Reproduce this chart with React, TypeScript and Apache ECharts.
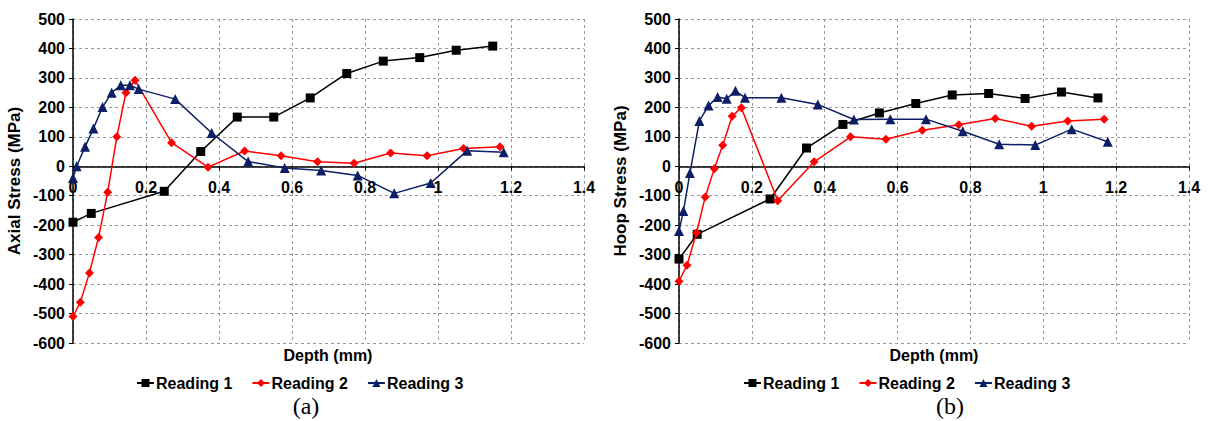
import React, { useEffect, useRef } from "react";
import * as echarts from "echarts";

// ---- Data: (a) Axial stress ----
const depthA1 = [0, 0.05, 0.25, 0.35, 0.45, 0.55, 0.65, 0.75, 0.85, 0.95, 1.05, 1.15];
const axialR1 = [-190, -160, -85, 50, 167, 167, 232, 315, 357, 369, 394, 408];

const depthA2 = [0, 0.02, 0.045, 0.07, 0.095, 0.12, 0.145, 0.17, 0.27, 0.37, 0.47, 0.57, 0.67, 0.77, 0.87, 0.97, 1.07, 1.17];
const axialR2 = [-510, -462, -362, -242, -88, 100, 250, 292, 80, -3, 52, 36, 15, 10, 45, 36, 60, 66];

const depthA3 = [0, 0.01, 0.033, 0.056, 0.081, 0.106, 0.131, 0.156, 0.18, 0.28, 0.38, 0.48, 0.58, 0.68, 0.78, 0.88, 0.98, 1.08, 1.18];
const axialR3 = [-40, 0, 66, 128, 201, 250, 275, 275, 262, 228, 113, 16, -6, -14, -31, -92, -57, 53, 48];

// ---- Data: (b) Hoop stress ----
const depthB1 = [0, 0.05, 0.25, 0.35, 0.45, 0.55, 0.65, 0.75, 0.85, 0.95, 1.05, 1.15];
const hoopR1 = [-315, -231, -111, 62, 142, 181, 213, 242, 247, 230, 252, 232];

const depthB2 = [0, 0.022, 0.048, 0.072, 0.097, 0.12, 0.146, 0.171, 0.271, 0.371, 0.471, 0.568, 0.668, 0.768, 0.868, 0.968, 1.067, 1.167];
const hoopR2 = [-390, -336, -226, -104, -8, 71, 170, 199, -117, 15, 100, 92, 122, 141, 162, 136, 154, 160];

const depthB3 = [0, 0.012, 0.03, 0.056, 0.081, 0.106, 0.131, 0.155, 0.181, 0.281, 0.381, 0.48, 0.58, 0.678, 0.779, 0.879, 0.978, 1.078, 1.177];
const hoopR3 = [-220, -152, -23, 154, 206, 235, 229, 256, 233, 233, 210, 159, 160, 160, 119, 75, 72, 126, 83];

const seriesNames = ["Reading 1", "Reading 2", "Reading 3"];
const yAxisNames = ["Axial Stress (MPa)", "Hoop Stress (MPa)"];
const xAxisName = "Depth (mm)";
const captions = ["(a)", "(b)"];

const FONT = '"Liberation Sans", Arial, sans-serif';
const COLORS = ["#000000", "#ff0000", "#0c1f66"];
const SYMBOLS = ["rect", "diamond", "triangle"];
const SIZES = [9, 9, 10];

function pairs(xs: number[], ys: number[]) {
  return xs.map((x, i) => [x, ys[i]]);
}

function mkSeries(idx: number, grid: number, xs: number[], ys: number[]) {
  return {
    type: "line",
    name: seriesNames[idx],
    xAxisIndex: grid,
    yAxisIndex: grid,
    data: pairs(xs, ys),
    symbol: SYMBOLS[idx],
    symbolSize: SIZES[idx],
    showAllSymbol: true,
    lineStyle: { color: COLORS[idx], width: 1.5 },
    itemStyle: { color: COLORS[idx] },
    z: 2 + idx,
  };
}

function xAxis(grid: number) {
  return {
    type: "value",
    gridIndex: grid,
    min: 0,
    max: 1.4,
    interval: 0.2,
    axisLine: { show: true, onZero: true, lineStyle: { color: "#000", width: 1.5 } },
    axisTick: { show: true, length: 4, lineStyle: { color: "#000" } },
    axisLabel: {
      margin: -164,
      color: "#000",
      fontFamily: FONT,
      fontWeight: "bold",
      fontSize: 16,
      formatter: (v: number) => String(+v.toFixed(1)),
    },
    splitLine: { show: true, lineStyle: { color: "#9a9a9a", type: [3, 3], width: 1 } },
  };
}

function yAxis(grid: number) {
  return {
    type: "value",
    gridIndex: grid,
    min: -600,
    max: 500,
    interval: 100,
    name: yAxisNames[grid],
    nameLocation: "middle",
    nameGap: 50,
    nameTextStyle: { color: "#000", fontFamily: FONT, fontWeight: "bold", fontSize: 17 },
    axisLine: { show: true, onZero: false, lineStyle: { color: "#000", width: 1.5 } },
    axisTick: { show: true, length: 4, lineStyle: { color: "#000" } },
    axisLabel: { margin: 8, color: "#000", fontFamily: FONT, fontWeight: "bold", fontSize: 16 },
    splitLine: { show: true, lineStyle: { color: "#9a9a9a", type: [3, 3], width: 1 } },
  };
}

function legend(left: number) {
  return {
    left,
    top: 375,
    padding: 0,
    itemGap: 19,
    itemWidth: 17,
    itemHeight: 10,
    data: seriesNames,
    textStyle: { color: "#000", fontFamily: FONT, fontWeight: "bold", fontSize: 16, padding: [0, 0, 0, -3] },
  };
}

export default function App() {
  const ref = useRef<HTMLDivElement>(null);
  useEffect(() => {
    const chart = echarts.init(ref.current!, null, { renderer: "svg" });
    const option: any = {
      animation: false,
      backgroundColor: "#ffffff",
      grid: [
        { left: 73, top: 19, width: 511, height: 324 },
        { left: 679, top: 19, width: 510, height: 324 },
      ],
      xAxis: [xAxis(0), xAxis(1)],
      yAxis: [yAxis(0), yAxis(1)],
      legend: [legend(136), legend(743)],
      series: [
        mkSeries(0, 0, depthA1, axialR1),
        mkSeries(1, 0, depthA2, axialR2),
        mkSeries(2, 0, depthA3, axialR3),
        mkSeries(0, 1, depthB1, hoopR1),
        mkSeries(1, 1, depthB2, hoopR2),
        mkSeries(2, 1, depthB3, hoopR3),
      ],
      graphic: [
        {
          type: "text",
          x: 328,
          y: 355,
          style: { text: xAxisName, fill: "#000", font: `bold 16px ${FONT}`, align: "center", verticalAlign: "middle" },
        },
        {
          type: "text",
          x: 934,
          y: 355,
          style: { text: xAxisName, fill: "#000", font: `bold 16px ${FONT}`, align: "center", verticalAlign: "middle" },
        },
        {
          type: "text",
          x: 306,
          y: 406,
          style: { text: captions[0], fill: "#000", font: '24px "Liberation Serif", "Times New Roman", serif', align: "center", verticalAlign: "middle" },
        },
        {
          type: "text",
          x: 950,
          y: 406,
          style: { text: captions[1], fill: "#000", font: '24px "Liberation Serif", "Times New Roman", serif', align: "center", verticalAlign: "middle" },
        },
      ],
    };
    chart.setOption(option);
    return () => chart.dispose();
  }, []);
  return (
    <div
      ref={ref}
      style={{ position: "fixed", left: 0, top: 0, width: 1212, height: 421, background: "#fff" }}
    />
  );
}
